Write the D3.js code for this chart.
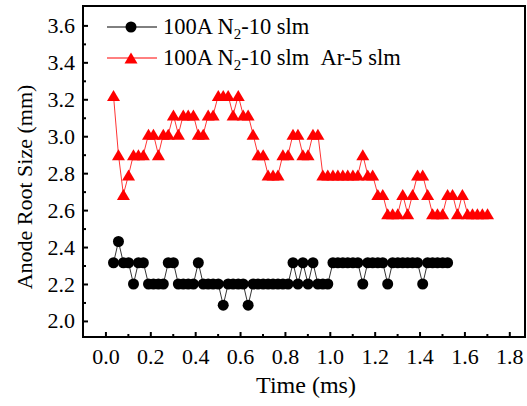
<!DOCTYPE html>
<html>
<head>
<meta charset="utf-8">
<script src="https://cdn.jsdelivr.net/npm/d3@7"></script>
<style>
  body { margin: 0; background: #fff; }
  svg { display: block; }
  text { font-family: "Liberation Serif", "Times New Roman", Tinos, "DejaVu Serif", serif; fill: #000; }
</style>
</head>
<body>
<div id="chart"></div>
<script>
// 时间轴 (ms)，两组数据共用
const timeMs = [
  0.036, 0.058, 0.080, 0.103, 0.125, 0.147, 0.169, 0.192, 0.214, 0.236,
  0.258, 0.280, 0.303, 0.325, 0.347, 0.369, 0.392, 0.414, 0.436, 0.458,
  0.480, 0.503, 0.525, 0.547, 0.569, 0.592, 0.614, 0.636, 0.658, 0.680,
  0.703, 0.725, 0.747, 0.769, 0.791, 0.814, 0.836, 0.858, 0.880, 0.903,
  0.925, 0.947, 0.969, 0.991, 1.014, 1.036, 1.058, 1.080, 1.103, 1.125,
  1.147, 1.169, 1.191, 1.214, 1.236, 1.258, 1.280, 1.303, 1.325, 1.347,
  1.369, 1.391, 1.414, 1.436, 1.458, 1.480, 1.503, 1.525, 1.547, 1.569,
  1.591, 1.614, 1.636, 1.658, 1.680, 1.703
];

// 100A N2-10 slm
const n2Size = [
  2.315, 2.43, 2.315, 2.315, 2.20, 2.315, 2.315, 2.20, 2.20, 2.20,
  2.20, 2.315, 2.315, 2.20, 2.20, 2.20, 2.20, 2.315, 2.20, 2.20,
  2.20, 2.20, 2.085, 2.20, 2.20, 2.20, 2.20, 2.085, 2.20, 2.20,
  2.20, 2.20, 2.20, 2.20, 2.20, 2.20, 2.315, 2.20, 2.315, 2.20,
  2.315, 2.20, 2.20, 2.20, 2.315, 2.315, 2.315, 2.315, 2.315, 2.315,
  2.20, 2.315, 2.315, 2.315, 2.315, 2.20, 2.315, 2.315, 2.315, 2.315,
  2.315, 2.315, 2.20, 2.315, 2.315, 2.315, 2.315, 2.315
];

// 100A N2-10 slm  Ar-5 slm
const n2ArSize = [
  3.22, 2.90, 2.685, 2.79, 2.90, 2.90, 2.90, 3.01, 3.01, 2.90,
  3.01, 3.01, 3.115, 3.01, 3.115, 3.115, 3.115, 3.01, 3.01, 3.115,
  3.115, 3.22, 3.22, 3.22, 3.115, 3.22, 3.115, 3.115, 3.01, 2.90,
  2.90, 2.79, 2.79, 2.79, 2.90, 2.90, 3.01, 3.01, 2.90, 2.90,
  3.01, 3.01, 2.79, 2.79, 2.79, 2.79, 2.79, 2.79, 2.79, 2.79,
  2.90, 2.79, 2.79, 2.685, 2.685, 2.58, 2.58, 2.58, 2.685, 2.58,
  2.685, 2.79, 2.79, 2.685, 2.58, 2.58, 2.58, 2.685, 2.685, 2.58,
  2.685, 2.58, 2.58, 2.58, 2.58, 2.58
];

const xTicks = [0.0, 0.2, 0.4, 0.6, 0.8, 1.0, 1.2, 1.4, 1.6, 1.8];
const xMinorTicks = [0.1, 0.3, 0.5, 0.7, 0.9, 1.1, 1.3, 1.5, 1.7];
const yTicks = [2.0, 2.2, 2.4, 2.6, 2.8, 3.0, 3.2, 3.4, 3.6];
const yMinorTicks = [2.1, 2.3, 2.5, 2.7, 2.9, 3.1, 3.3, 3.5];

const fontStack = '"Liberation Serif", "Times New Roman", Tinos, "DejaVu Serif", serif';

const width = 527, height = 406;
const margin = { top: 6, right: 2, bottom: 69, left: 83 };
const plotW = width - margin.left - margin.right;
const plotH = height - margin.top - margin.bottom;

const svg = d3.select('#chart').append('svg')
  .attr('width', width)
  .attr('height', height);

const g = svg.append('g')
  .attr('transform', `translate(${margin.left},${margin.top})`);

const x = d3.scaleLinear().domain([-0.1, 1.87]).range([0, plotW]);
const y = d3.scaleLinear().domain([1.913, 3.705]).range([plotH, 0]);

// 坐标轴（刻度朝内）
g.append('g')
  .attr('transform', `translate(0,${plotH})`)
  .call(d3.axisBottom(x).tickValues(xTicks).tickSize(-5).tickPadding(11)
    .tickFormat(d3.format('.1f')));
g.append('g')
  .attr('transform', `translate(0,${plotH})`)
  .call(d3.axisBottom(x).tickValues(xMinorTicks).tickSize(-3).tickFormat(''));

g.append('g')
  .call(d3.axisLeft(y).tickValues(yTicks).tickSize(-5).tickPadding(8)
    .tickFormat(d3.format('.1f')));
g.append('g')
  .call(d3.axisLeft(y).tickValues(yMinorTicks).tickSize(-3).tickFormat(''));

g.selectAll('.domain').remove();
g.selectAll('.tick line').attr('stroke', '#000').attr('stroke-width', 2);
g.selectAll('g').attr('font-family', null).attr('font-size', null);
g.selectAll('.tick text')
  .style('font-size', '22px')
  .style('font-family', fontStack);

// 外框
g.append('rect')
  .attr('x', 0).attr('y', 0)
  .attr('width', plotW).attr('height', plotH)
  .attr('fill', 'none')
  .attr('stroke', '#000')
  .attr('stroke-width', 2);

// 轴标题
svg.append('text')
  .attr('x', margin.left + plotW / 2 + 2)
  .attr('y', 393)
  .attr('text-anchor', 'middle')
  .style('font-family', fontStack)
  .style('font-size', '24px')
  .text('Time (ms)');

svg.append('text')
  .attr('transform', 'translate(32,187) rotate(-90)')
  .attr('text-anchor', 'middle')
  .style('font-family', fontStack)
  .style('font-size', '22px')
  .text('Anode Root Size (mm)');

// 三角形符号（以外接框中心为锚点）
const triW = 13, triH = 11;
const triPath = `M0,${-triH / 2}L${triW / 2},${triH / 2}L${-triW / 2},${triH / 2}Z`;

const n2Data = n2Size.map((v, i) => ({ t: timeMs[i], v }));
const n2ArData = n2ArSize.map((v, i) => ({ t: timeMs[i], v }));

const line = d3.line().x(d => x(d.t)).y(d => y(d.v));

// N2 系列
g.append('path')
  .datum(n2Data)
  .attr('d', line)
  .attr('fill', 'none')
  .attr('stroke', '#000')
  .attr('stroke-width', 0.8);
g.selectAll('.dot-n2')
  .data(n2Data)
  .enter()
  .append('circle')
  .attr('class', 'dot-n2')
  .attr('cx', d => x(d.t))
  .attr('cy', d => y(d.v))
  .attr('r', 5.5)
  .attr('fill', '#000');

// N2 + Ar 系列
g.append('path')
  .datum(n2ArData)
  .attr('d', line)
  .attr('fill', 'none')
  .attr('stroke', '#ff0000')
  .attr('stroke-width', 0.8);
g.selectAll('.tri-ar')
  .data(n2ArData)
  .enter()
  .append('path')
  .attr('class', 'tri-ar')
  .attr('d', triPath)
  .attr('transform', d => `translate(${x(d.t)},${y(d.v)})`)
  .attr('fill', '#ff0000');

// 图例
const legend = svg.append('g');
const legendRows = [
  { y: 27, color: '#000', symbol: 'circle', extra: '' },
  { y: 58, color: '#ff0000', symbol: 'triangle', extra: '\u00a0\u00a0Ar-5 slm' }
];
legendRows.forEach(row => {
  legend.append('line')
    .attr('x1', 107).attr('x2', 157)
    .attr('y1', row.y).attr('y2', row.y)
    .attr('stroke', row.color)
    .attr('stroke-width', 1);
  if (row.symbol === 'circle') {
    legend.append('circle')
      .attr('cx', 131).attr('cy', row.y).attr('r', 5.5)
      .attr('fill', row.color);
  } else {
    legend.append('path')
      .attr('d', triPath)
      .attr('transform', `translate(131,${row.y})`)
      .attr('fill', row.color);
  }
  const t = legend.append('text')
    .attr('x', 163)
    .attr('y', row.y + 7)
    .style('font-family', fontStack)
    .style('font-size', '22.5px');
  t.append('tspan').text('100A N');
  t.append('tspan').text('2').style('font-size', '15px').attr('dy', 5);
  t.append('tspan').text('-10 slm' + row.extra).attr('dy', -5);
});
</script>
</body>
</html>
